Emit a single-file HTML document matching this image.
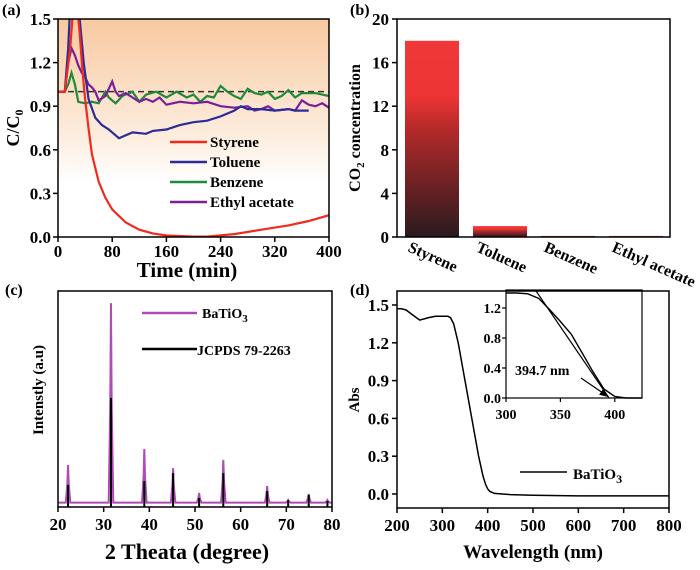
<!DOCTYPE html>
<html><head><meta charset="utf-8"><style>
html,body{margin:0;padding:0;background:#fff;}
svg{display:block;font-family:"Liberation Serif",serif;font-weight:bold;}
</style></head><body>
<svg id="fig" width="700" height="570" viewBox="0 0 700 570" xmlns="http://www.w3.org/2000/svg">
<defs>
<linearGradient id="bgA" x1="0" y1="0" x2="0" y2="1"><stop offset="0" stop-color="#f8c9a0"/><stop offset="0.55" stop-color="#fdeee0"/><stop offset="0.75" stop-color="#ffffff"/></linearGradient>
<linearGradient id="barG" x1="0" y1="1" x2="0" y2="0"><stop offset="0" stop-color="#2a1a1e"/><stop offset="0.55" stop-color="#b42a2a"/><stop offset="0.72" stop-color="#ee3434"/><stop offset="1" stop-color="#f03838"/></linearGradient>
<clipPath id="clipA"><rect x="58" y="19" width="271" height="218"/></clipPath>
<marker id="arr" markerWidth="8" markerHeight="6" refX="7" refY="3" orient="auto"><path d="M0,0 L8,3 L0,6 z" fill="#000"/></marker>
</defs>
</svg>
<script>
// ---- Panel (a) data
const aTimeStyrene=[0,10,18,22,28,32,36,40,45,50,60,70,80,100,120,140,160,200,220,260,300,340,370,400];
const aStyrene=[1.0,1.0,1.3,1.55,1.6,1.4,1.15,0.95,0.75,0.57,0.38,0.27,0.19,0.1,0.05,0.025,0.01,0.003,0.003,0.02,0.05,0.08,0.11,0.15];
const aTimeToluene=[0,10,15,18,28,32,38,45,55,65,75,85,90,100,110,130,140,160,180,200,220,240,260,270,280,300,320,340,350,370];
const aToluene=[1.0,1.0,1.3,1.6,1.6,1.5,1.2,0.95,0.82,0.77,0.74,0.7,0.68,0.7,0.72,0.71,0.73,0.74,0.77,0.79,0.8,0.83,0.87,0.9,0.88,0.88,0.87,0.88,0.87,0.87];
const aTimeBenzene=[0,10,15,20,25,30,40,50,60,70,75,85,95,110,120,130,145,160,175,190,200,210,220,230,240,250,260,270,280,290,300,310,320,330,340,350,360,380,400];
const aBenzene=[1.0,1.0,1.05,1.13,1.05,0.93,0.92,0.93,0.92,1.0,0.96,0.92,0.97,1.0,0.93,0.98,1.0,0.96,1.0,0.96,0.98,0.93,0.97,0.96,1.04,1.0,0.97,0.95,1.02,0.99,0.98,1.0,0.95,0.97,1.01,0.96,0.99,0.99,0.97];
const aTimeEthyl=[0,10,15,20,25,30,35,40,45,50,55,60,70,80,85,90,100,110,120,130,140,150,160,180,200,220,240,260,280,290,300,310,320,340,350,360,370,380,390,400];
const aEthyl=[1.0,1.0,1.2,1.3,1.25,1.18,1.13,1.1,1.05,1.03,1.0,0.94,0.97,1.07,1.0,0.97,0.99,0.96,0.93,0.95,0.93,0.96,0.91,0.93,0.92,0.93,0.9,0.89,0.9,0.87,0.88,0.9,0.87,0.88,0.87,0.94,0.91,0.9,0.92,0.89];
const aXTicks=[0,80,160,240,320,400];
const aYTicks=[0.0,0.3,0.6,0.9,1.2,1.5];
// ---- Panel (b) data
const bCategories=["Styrene","Toluene","Benzene","Ethyl acetate"];
const bValues=[18,1,0.1,0.1];
const bYTicks=[0,4,8,12,16,20];
// ---- Panel (c) data
const cPeaks=[22.2,31.6,38.9,45.2,50.9,56.2,65.8,70.4,74.9,79.0];
const cSample=[19.4,94.4,26.9,18,6.5,21.8,9.7,3.2,6,3.2];
const cRef=[10.2,50.5,12,15.7,4.2,15.7,7.4,3.2,5.6,2.8];
const cXTicks=[20,30,40,50,60,70,80];
// ---- Panel (d) data
const dWave=[200,210,220,235,250,260,270,285,300,312,318,325,335,350,365,380,390,395,400,405,415,450,500,600,700,800];
const dAbs=[1.47,1.47,1.46,1.42,1.38,1.39,1.40,1.41,1.41,1.41,1.40,1.35,1.2,0.9,0.6,0.3,0.14,0.08,0.04,0.02,0.005,-0.005,-0.01,-0.015,-0.015,-0.015];
const dXTicks=[200,300,400,500,600,700,800];
const dYTicks=[0.0,0.3,0.6,0.9,1.2,1.5];
const insetWave=[300,310,320,330,340,350,360,370,380,390,400,410,425];
const insetAbs=[1.4,1.4,1.39,1.33,1.18,1.02,0.85,0.6,0.35,0.12,0.02,0.0,0.0];
const insetXTicks=[300,350,400];
const insetYTicks=[0.0,0.4,0.8,1.2];
const insetTangent=[327,394.7];

const NS="http://www.w3.org/2000/svg";
const svg=document.getElementById('fig');
function mk(tag,attrs,parent){const e=document.createElementNS(NS,tag);for(const k in attrs)e.setAttribute(k,attrs[k]);(parent||svg).appendChild(e);return e;}
function lin(d0,d1,r0,r1){return v=>r0+(v-d0)*(r1-r0)/(d1-d0);}
function txt(x,y,s,size,anchor,parent){const t=mk('text',{x:x,y:y,'font-size':size,'text-anchor':anchor||'middle'},parent);t.textContent=s;return t;}
function pathOf(xs,ys,sx,sy){return xs.map((v,i)=>(i?'L':'M')+sx(v).toFixed(1)+','+sy(ys[i]).toFixed(1)).join(' ');}

// ===== Panel A
const ax=lin(0,400,58,329), ay=lin(0,1.5,237,19);
let e=mk('rect',{x:58,y:19,width:271,height:218,fill:'url(#bgA)'});


e=mk('line',{x1:58,x2:329,y1:ay(1),y2:ay(1),stroke:'#333','stroke-width':1.5,'stroke-dasharray':'6,4'});


const gA=mk('g',{'clip-path':'url(#clipA)',fill:'none','stroke-width':2.2});


e=mk('path',{d:pathOf(aTimeBenzene,aBenzene,ax,ay),stroke:'#1f8a3a'},gA);


e=mk('path',{d:pathOf(aTimeEthyl,aEthyl,ax,ay),stroke:'#7a1f9a'},gA);


e=mk('path',{d:pathOf(aTimeToluene,aToluene,ax,ay),stroke:'#2b2b9a'},gA);


e=mk('path',{d:pathOf(aTimeStyrene,aStyrene,ax,ay),stroke:'#f02a1e'},gA);


e=mk('rect',{x:58,y:19,width:271,height:218,fill:'none',stroke:'#000','stroke-width':1.5});


aXTicks.forEach(v=>{e=mk('line',{x1:ax(v),x2:ax(v),y1:237,y2:242,stroke:'#000','stroke-width':1.5});


e=txt(ax(v),257,String(v),17);

});
aYTicks.forEach(v=>{e=mk('line',{x1:53,x2:58,y1:ay(v),y2:ay(v),stroke:'#000','stroke-width':1.5});


e=txt(51,ay(v)+6,v.toFixed(1),17,'end');

});
e=txt(187,277,'Time (min)',21);


e=mk('text',{x:0,y:0,'font-size':18,'text-anchor':'middle',transform:'translate(19,128) rotate(-90)'});
e.innerHTML='C/C<tspan font-size="12" dy="4">0</tspan>';


e=txt(2,15,'(a)',16,'start');


const legA=[['Styrene','#f02a1e'],['Toluene','#2b2b9a'],['Benzene','#1f8a3a'],['Ethyl acetate','#7a1f9a']];
legA.forEach((l,i)=>{const y=142+i*20;
e=mk('line',{x1:170,x2:207,y1:y,y2:y,stroke:l[1],'stroke-width':2.5});


e=txt(210,y+5,l[0],15,'start');

});

// ===== Panel B
const by=lin(0,20,237,19);
const bw=54, bStart=405, bStep=68;
bValues.forEach((v,i)=>{const x=bStart+i*bStep;
e=mk('rect',{x:x,y:by(v),width:bw,height:237-by(v),fill:'url(#barG)'});


e=mk('text',{x:0,y:0,'font-size':16,'text-anchor':'start',transform:'translate('+(x+2)+',251) rotate(24)'});
e.textContent=bCategories[i];

});
e=mk('rect',{x:397,y:19,width:273,height:218,fill:'none',stroke:'#000','stroke-width':1.5});


bYTicks.forEach(v=>{e=mk('line',{x1:392,x2:397,y1:by(v),y2:by(v),stroke:'#000','stroke-width':1.5});


e=txt(389,by(v)+6,String(v),17,'end');

});
e=mk('text',{x:0,y:0,'font-size':16,'text-anchor':'middle',transform:'translate(360,128) rotate(-90)'});
e.innerHTML='CO<tspan font-size="11" dy="4">2</tspan><tspan dy="-4"> concentration</tspan>';


e=txt(350,15,'(b)',16,'start');



// ===== Panel C
const cx=lin(20,80,58,332), cy=lin(0,100,507,291);
function peakPath(peaks,vals,base){let d='M'+cx(20)+','+cy(base);peaks.forEach((p,i)=>{d+=' L'+cx(p-0.5)+','+cy(base)+' L'+cx(p-0.15)+','+cy(base+(vals[i]-base)*0.5)+' L'+cx(p)+','+cy(vals[i])+' L'+cx(p+0.15)+','+cy(base+(vals[i]-base)*0.5)+' L'+cx(p+0.5)+','+cy(base);});return d+' L'+cx(80)+','+cy(base);}
e=mk('path',{d:peakPath(cPeaks,cSample,2),fill:'none',stroke:'#b04ab8','stroke-width':2});


cPeaks.forEach((p,i)=>{e=mk('line',{x1:cx(p),x2:cx(p),y1:cy(0),y2:cy(cRef[i]),stroke:'#000','stroke-width':2});

});
e=mk('rect',{x:58,y:291,width:274,height:216,fill:'none',stroke:'#000','stroke-width':1.5});


cXTicks.forEach(v=>{e=mk('line',{x1:cx(v),x2:cx(v),y1:507,y2:512,stroke:'#000','stroke-width':1.5});


e=txt(cx(v),530,String(v),17);

});
e=txt(187,559,'2 Theata (degree)',22);


e=mk('text',{x:0,y:0,'font-size':15,'text-anchor':'middle',transform:'translate(43,390) rotate(-90)'});
e.textContent='Intenstly (a.u)';


e=txt(5,295,'(c)',16,'start');


e=mk('line',{x1:142,x2:197,y1:313,y2:313,stroke:'#b04ab8','stroke-width':2.5});


e=mk('text',{x:202,y:318,'font-size':14,'text-anchor':'start'});
e.innerHTML='BaTiO<tspan font-size="11" dy="4">3</tspan>';


e=mk('line',{x1:142,x2:197,y1:349,y2:349,stroke:'#000','stroke-width':2.5});


e=txt(197,355,'JCPDS 79-2263',14,'start');



// ===== Panel D
const dx=lin(200,800,397,669), dy=lin(0,1.5,494,305);
e=mk('path',{d:pathOf(dWave,dAbs,dx,dy),fill:'none',stroke:'#000','stroke-width':1.5});


e=mk('rect',{x:397,y:291,width:272,height:217,fill:'none',stroke:'#000','stroke-width':1.5});


dXTicks.forEach(v=>{e=mk('line',{x1:dx(v),x2:dx(v),y1:508,y2:513,stroke:'#000','stroke-width':1.5});


e=txt(dx(v),531,String(v),17);

});
dYTicks.forEach(v=>{e=mk('line',{x1:392,x2:397,y1:dy(v),y2:dy(v),stroke:'#000','stroke-width':1.5});


e=txt(389,dy(v)+6,v.toFixed(1),17,'end');

});
e=txt(533,558,'Wavelength (nm)',19);


e=mk('text',{x:0,y:0,'font-size':15,'text-anchor':'middle',transform:'translate(359,400) rotate(-90)'});
e.textContent='Abs';


e=txt(350,295,'(d)',16,'start');


e=mk('line',{x1:520,x2:567,y1:472,y2:472,stroke:'#000','stroke-width':1.5});


e=mk('text',{x:573,y:479,'font-size':15,'text-anchor':'start'});
e.innerHTML='BaTiO<tspan font-size="12" dy="4">3</tspan>';


// inset
const ix=lin(300,425,506,642), iy=lin(0,1.2,398,308);
e=mk('path',{d:pathOf(insetWave,insetAbs,ix,iy),fill:'none',stroke:'#000','stroke-width':1.4});


e=mk('line',{x1:ix(insetTangent[0]),y1:290,x2:ix(insetTangent[1]),y2:iy(0),stroke:'#000','stroke-width':1.2});


e=mk('rect',{x:506,y:290,width:136,height:108,fill:'none',stroke:'#000','stroke-width':1.2});


insetXTicks.forEach(v=>{e=mk('line',{x1:ix(v),x2:ix(v),y1:398,y2:402,stroke:'#000','stroke-width':1.2});


e=txt(ix(v),419,String(v),14);

});
insetYTicks.forEach(v=>{e=mk('line',{x1:502,x2:506,y1:iy(v),y2:iy(v),stroke:'#000','stroke-width':1.2});


e=txt(501,iy(v)+5,v.toFixed(1),14,'end');

});
e=txt(515,375,'394.7 nm',14,'start');


e=mk('line',{x1:581,y1:378,x2:ix(insetTangent[1])-1,y2:iy(0.02),stroke:'#000','stroke-width':1.2,'marker-end':'url(#arr)'});


</script>
</body></html>
